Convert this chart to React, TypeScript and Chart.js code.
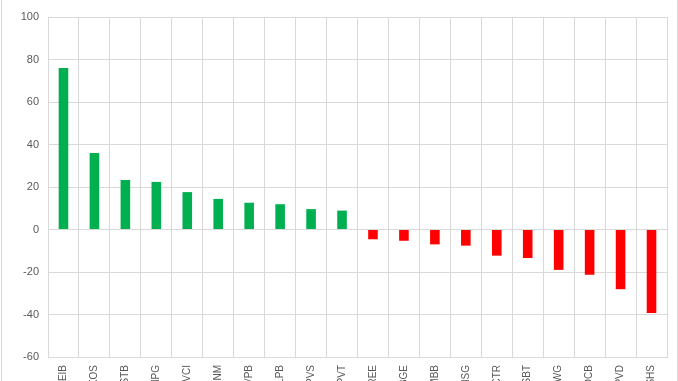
import React, { useEffect, useRef } from "react";
import { Chart, registerables } from "chart.js";

Chart.register(...registerables);

const categories = ["EIB", "KOS", "STB", "HPG", "VCI", "NM", "VPB", "LPB", "PVS", "PVT", "REE", "BGE", "MBB", "HSG", "CTR", "SBT", "WG", "OCB", "PVD", "SHS"];
const values = [76, 36, 23.3, 22.4, 17.6, 14.4, 12.6, 11.9, 9.6, 8.9, -4.6, -5.3, -7, -7.6, -12.3, -13.4, -19, -21.3, -28.1, -39.3];
const yMin = -60;
const yMax = 100;
const yStep = 20;

const GREEN = "#00B050";
const RED = "#FF0000";
const GRID = "#d9d9d9";
const TEXT = "#595959";

export default function App() {
  const ref = useRef<HTMLCanvasElement | null>(null);

  useEffect(() => {
    if (!ref.current) return;
    const chart = new Chart(ref.current, {
      type: "bar",
      data: {
        labels: categories,
        datasets: [
          {
            data: values,
            backgroundColor: values.map((v) => (v >= 0 ? GREEN : RED)),
            barPercentage: 0.31,
            categoryPercentage: 1,
          },
        ],
      },
      options: {
        animation: false,
        responsive: false,
        maintainAspectRatio: false,
        layout: { padding: { left: 0, right: 11, top: 17, bottom: 0 } },
        plugins: { legend: { display: false }, tooltip: { enabled: false } },
        scales: {
          x: {
            grid: { color: GRID, drawTicks: false, offset: true },
            border: { color: GRID },
            ticks: {
              color: TEXT,
              font: { family: "Liberation Sans", size: 10 },
              maxRotation: 90,
              minRotation: 90,
              padding: 8,
              autoSkip: false,
            },
            afterFit: (s: any) => {
              s.height = 24;
            },
          },
          y: {
            min: yMin,
            max: yMax,
            grid: { color: GRID, drawTicks: false },
            border: { display: false },
            ticks: {
              stepSize: yStep,
              color: TEXT,
              font: { family: "Liberation Sans", size: 11 },
              padding: 9,
            },
            afterFit: (s: any) => {
              s.width = 48;
            },
          },
        },
      },
    });
    return () => chart.destroy();
  }, []);

  return (
    <div style={{ position: "fixed", left: 0, top: 0, width: 678, height: 381, background: "#fff", overflow: "hidden" }}>
      <canvas ref={ref} width={678} height={381} style={{ display: "block" }} />
      <div
        style={{
          position: "absolute",
          left: 1,
          top: -2,
          width: 675,
          height: 400,
          borderLeft: "1px solid " + GRID,
          borderRight: "1px solid " + GRID,
          pointerEvents: "none",
        }}
      />
    </div>
  );
}
